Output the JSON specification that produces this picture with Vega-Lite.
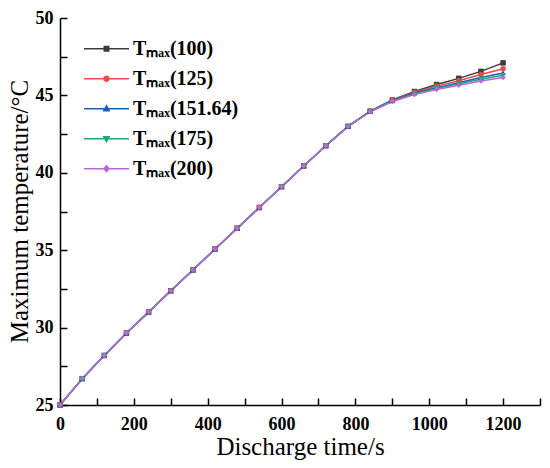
{
  "$schema": "https://vega.github.io/schema/vega-lite/v6.json",
  "width": 480,
  "height": 387,
  "autosize": "none",
  "padding": {"left": 60, "top": 18, "right": 10, "bottom": 63},
  "background": "white",
  "data": {"values": [
    {"s": "Tₘₐₓ(100)", "t": 0, "T": 25.0}, {"s": "Tₘₐₓ(100)", "t": 60, "T": 26.7}, {"s": "Tₘₐₓ(100)", "t": 120, "T": 28.2},
    {"s": "Tₘₐₓ(100)", "t": 180, "T": 29.65}, {"s": "Tₘₐₓ(100)", "t": 240, "T": 31.0}, {"s": "Tₘₐₓ(100)", "t": 300, "T": 32.38},
    {"s": "Tₘₐₓ(100)", "t": 360, "T": 33.72}, {"s": "Tₘₐₓ(100)", "t": 420, "T": 35.08}, {"s": "Tₘₐₓ(100)", "t": 480, "T": 36.42},
    {"s": "Tₘₐₓ(100)", "t": 540, "T": 37.76}, {"s": "Tₘₐₓ(100)", "t": 600, "T": 39.1}, {"s": "Tₘₐₓ(100)", "t": 660, "T": 40.44},
    {"s": "Tₘₐₓ(100)", "t": 720, "T": 41.75}, {"s": "Tₘₐₓ(100)", "t": 780, "T": 43.0}, {"s": "Tₘₐₓ(100)", "t": 840, "T": 43.98},
    {"s": "Tₘₐₓ(100)", "t": 900, "T": 44.7}, {"s": "Tₘₐₓ(100)", "t": 960, "T": 45.25}, {"s": "Tₘₐₓ(100)", "t": 1020, "T": 45.7},
    {"s": "Tₘₐₓ(100)", "t": 1080, "T": 46.1}, {"s": "Tₘₐₓ(100)", "t": 1140, "T": 46.55}, {"s": "Tₘₐₓ(100)", "t": 1200, "T": 47.1},

    {"s": "Tₘₐₓ(125)", "t": 0, "T": 25.0}, {"s": "Tₘₐₓ(125)", "t": 60, "T": 26.7}, {"s": "Tₘₐₓ(125)", "t": 120, "T": 28.2},
    {"s": "Tₘₐₓ(125)", "t": 180, "T": 29.65}, {"s": "Tₘₐₓ(125)", "t": 240, "T": 31.0}, {"s": "Tₘₐₓ(125)", "t": 300, "T": 32.38},
    {"s": "Tₘₐₓ(125)", "t": 360, "T": 33.72}, {"s": "Tₘₐₓ(125)", "t": 420, "T": 35.08}, {"s": "Tₘₐₓ(125)", "t": 480, "T": 36.42},
    {"s": "Tₘₐₓ(125)", "t": 540, "T": 37.76}, {"s": "Tₘₐₓ(125)", "t": 600, "T": 39.1}, {"s": "Tₘₐₓ(125)", "t": 660, "T": 40.44},
    {"s": "Tₘₐₓ(125)", "t": 720, "T": 41.75}, {"s": "Tₘₐₓ(125)", "t": 780, "T": 43.0}, {"s": "Tₘₐₓ(125)", "t": 840, "T": 43.97},
    {"s": "Tₘₐₓ(125)", "t": 900, "T": 44.67}, {"s": "Tₘₐₓ(125)", "t": 960, "T": 45.2}, {"s": "Tₘₐₓ(125)", "t": 1020, "T": 45.6},
    {"s": "Tₘₐₓ(125)", "t": 1080, "T": 45.95}, {"s": "Tₘₐₓ(125)", "t": 1140, "T": 46.35}, {"s": "Tₘₐₓ(125)", "t": 1200, "T": 46.72},

    {"s": "Tₘₐₓ(151.64)", "t": 0, "T": 25.0}, {"s": "Tₘₐₓ(151.64)", "t": 60, "T": 26.7}, {"s": "Tₘₐₓ(151.64)", "t": 120, "T": 28.2},
    {"s": "Tₘₐₓ(151.64)", "t": 180, "T": 29.65}, {"s": "Tₘₐₓ(151.64)", "t": 240, "T": 31.0}, {"s": "Tₘₐₓ(151.64)", "t": 300, "T": 32.38},
    {"s": "Tₘₐₓ(151.64)", "t": 360, "T": 33.72}, {"s": "Tₘₐₓ(151.64)", "t": 420, "T": 35.08}, {"s": "Tₘₐₓ(151.64)", "t": 480, "T": 36.42},
    {"s": "Tₘₐₓ(151.64)", "t": 540, "T": 37.76}, {"s": "Tₘₐₓ(151.64)", "t": 600, "T": 39.1}, {"s": "Tₘₐₓ(151.64)", "t": 660, "T": 40.44},
    {"s": "Tₘₐₓ(151.64)", "t": 720, "T": 41.75}, {"s": "Tₘₐₓ(151.64)", "t": 780, "T": 43.0}, {"s": "Tₘₐₓ(151.64)", "t": 840, "T": 43.96},
    {"s": "Tₘₐₓ(151.64)", "t": 900, "T": 44.64}, {"s": "Tₘₐₓ(151.64)", "t": 960, "T": 45.15}, {"s": "Tₘₐₓ(151.64)", "t": 1020, "T": 45.5},
    {"s": "Tₘₐₓ(151.64)", "t": 1080, "T": 45.82}, {"s": "Tₘₐₓ(151.64)", "t": 1140, "T": 46.15}, {"s": "Tₘₐₓ(151.64)", "t": 1200, "T": 46.45},

    {"s": "Tₘₐₓ(175)", "t": 0, "T": 25.0}, {"s": "Tₘₐₓ(175)", "t": 60, "T": 26.7}, {"s": "Tₘₐₓ(175)", "t": 120, "T": 28.2},
    {"s": "Tₘₐₓ(175)", "t": 180, "T": 29.65}, {"s": "Tₘₐₓ(175)", "t": 240, "T": 31.0}, {"s": "Tₘₐₓ(175)", "t": 300, "T": 32.38},
    {"s": "Tₘₐₓ(175)", "t": 360, "T": 33.72}, {"s": "Tₘₐₓ(175)", "t": 420, "T": 35.08}, {"s": "Tₘₐₓ(175)", "t": 480, "T": 36.42},
    {"s": "Tₘₐₓ(175)", "t": 540, "T": 37.76}, {"s": "Tₘₐₓ(175)", "t": 600, "T": 39.1}, {"s": "Tₘₐₓ(175)", "t": 660, "T": 40.44},
    {"s": "Tₘₐₓ(175)", "t": 720, "T": 41.75}, {"s": "Tₘₐₓ(175)", "t": 780, "T": 43.0}, {"s": "Tₘₐₓ(175)", "t": 840, "T": 43.95},
    {"s": "Tₘₐₓ(175)", "t": 900, "T": 44.62}, {"s": "Tₘₐₓ(175)", "t": 960, "T": 45.1}, {"s": "Tₘₐₓ(175)", "t": 1020, "T": 45.45},
    {"s": "Tₘₐₓ(175)", "t": 1080, "T": 45.75}, {"s": "Tₘₐₓ(175)", "t": 1140, "T": 46.05}, {"s": "Tₘₐₓ(175)", "t": 1200, "T": 46.3},

    {"s": "Tₘₐₓ(200)", "t": 0, "T": 25.0}, {"s": "Tₘₐₓ(200)", "t": 60, "T": 26.7}, {"s": "Tₘₐₓ(200)", "t": 120, "T": 28.2},
    {"s": "Tₘₐₓ(200)", "t": 180, "T": 29.65}, {"s": "Tₘₐₓ(200)", "t": 240, "T": 31.0}, {"s": "Tₘₐₓ(200)", "t": 300, "T": 32.38},
    {"s": "Tₘₐₓ(200)", "t": 360, "T": 33.72}, {"s": "Tₘₐₓ(200)", "t": 420, "T": 35.08}, {"s": "Tₘₐₓ(200)", "t": 480, "T": 36.42},
    {"s": "Tₘₐₓ(200)", "t": 540, "T": 37.76}, {"s": "Tₘₐₓ(200)", "t": 600, "T": 39.1}, {"s": "Tₘₐₓ(200)", "t": 660, "T": 40.44},
    {"s": "Tₘₐₓ(200)", "t": 720, "T": 41.75}, {"s": "Tₘₐₓ(200)", "t": 780, "T": 43.0}, {"s": "Tₘₐₓ(200)", "t": 840, "T": 43.94},
    {"s": "Tₘₐₓ(200)", "t": 900, "T": 44.6}, {"s": "Tₘₐₓ(200)", "t": 960, "T": 45.05}, {"s": "Tₘₐₓ(200)", "t": 1020, "T": 45.38},
    {"s": "Tₘₐₓ(200)", "t": 1080, "T": 45.66}, {"s": "Tₘₐₓ(200)", "t": 1140, "T": 45.93}, {"s": "Tₘₐₓ(200)", "t": 1200, "T": 46.15}
  ]},
  "encoding": {
    "x": {
      "field": "t", "type": "quantitative",
      "scale": {"domain": [0, 1300], "nice": false},
      "axis": {
        "title": "Discharge time/s",
        "format": "d",
        "values": [0, 100, 200, 300, 400, 500, 600, 700, 800, 900, 1000, 1100, 1200, 1300],
        "labelExpr": "datum.value % 200 === 0 ? datum.label : ''",
        "tickSize": -7,
        "labelPadding": 17,
        "titlePadding": 1
      }
    },
    "y": {
      "field": "T", "type": "quantitative",
      "scale": {"domain": [25, 50], "nice": false, "zero": false},
      "axis": {
        "title": "Maximum temperature/°C",
        "values": [25, 27.5, 30, 32.5, 35, 37.5, 40, 42.5, 45, 47.5, 50],
        "labelExpr": "datum.value % 5 === 0 ? datum.label : ''",
        "tickSize": -7,
        "labelPadding": 14,
        "titleX": -28,
        "titleY": 193
      }
    }
  },
  "layer": [
    {
      "mark": {"type": "line", "strokeWidth": 1.5},
      "encoding": {
        "color": {
          "field": "s", "type": "nominal", "legend": null,
          "scale": {
            "domain": ["Tₘₐₓ(100)", "Tₘₐₓ(125)", "Tₘₐₓ(151.64)", "Tₘₐₓ(175)", "Tₘₐₓ(200)"],
            "range": ["#3c3c3c", "#f04848", "#1a5fb4", "#1fa77a", "#b868dc"]
          }
        }
      }
    },
    {
      "mark": {"type": "point", "filled": true, "size": 30, "opacity": 1},
      "encoding": {
        "color": {"field": "s", "type": "nominal", "legend": null},
        "shape": {
          "field": "s", "type": "nominal", "legend": null,
          "scale": {
            "domain": ["Tₘₐₓ(100)", "Tₘₐₓ(125)", "Tₘₐₓ(151.64)", "Tₘₐₓ(175)", "Tₘₐₓ(200)"],
            "range": ["square", "circle", "triangle-up", "triangle-down", "diamond"]
          }
        }
      }
    },
    {
      "mark": {"type": "point", "filled": true, "opacity": 0},
      "encoding": {
        "shape": {
          "field": "s", "type": "nominal", "title": null,
          "scale": {
            "domain": ["Tₘₐₓ(100)", "Tₘₐₓ(125)", "Tₘₐₓ(151.64)", "Tₘₐₓ(175)", "Tₘₐₓ(200)"],
            "range": [
              "M-1,0H1M-0.1,-0.1H0.1V0.1H-0.1Z",
              "M-1,0H1M0.11,0A0.11,0.11,0,1,1,-0.11,0A0.11,0.11,0,1,1,0.11,0Z",
              "M-1,0H1M0,-0.13L0.12,0.09H-0.12Z",
              "M-1,0H1M0,0.13L0.12,-0.09H-0.12Z",
              "M-1,0H1M0,-0.13L0.11,0L0,0.13L-0.11,0Z"
            ]
          },
          "legend": {
            "clipHeight": 29.5,
            "encoding": {
              "symbols": {
                "fill": {"value": {"expr": "scale('color', datum.value)"}},
                "stroke": {"value": {"expr": "scale('color', datum.value)"}},
                "strokeWidth": {"value": 1.5},
                "opacity": {"value": 1}
              }
            }
          }
        }
      }
    }
  ],
  "resolve": {"scale": {"shape": "independent"}},
  "config": {
    "view": {"stroke": null, "fill": null},
    "axis": {
      "zindex": 1,
      "grid": false,
      "domainColor": "black",
      "domainWidth": 1.5,
      "tickColor": "black",
      "tickWidth": 1.5,
      "tickOpacity": 1,
      "labelFont": "Liberation Serif",
      "labelFontWeight": "bold",
      "labelFontSize": 18,
      "labelColor": "black",
      "labelFlush": false,
      "labelOverlap": false,
      "titleFont": "Liberation Serif",
      "titleFontWeight": "normal",
      "titleFontSize": 25,
      "titleColor": "black"
    },
    "legend": {
      "orient": "none",
      "legendX": 23,
      "legendY": 16,
      "symbolSize": 2025,
      "symbolStrokeWidth": 1.5,
      "symbolOpacity": 1,
      "labelFont": "Liberation Serif",
      "labelFontWeight": "bold",
      "labelFontSize": 20,
      "labelColor": "black",
      "labelOffset": 3,
      "rowPadding": 0,
      "labelLimit": 300
    }
  }
}
